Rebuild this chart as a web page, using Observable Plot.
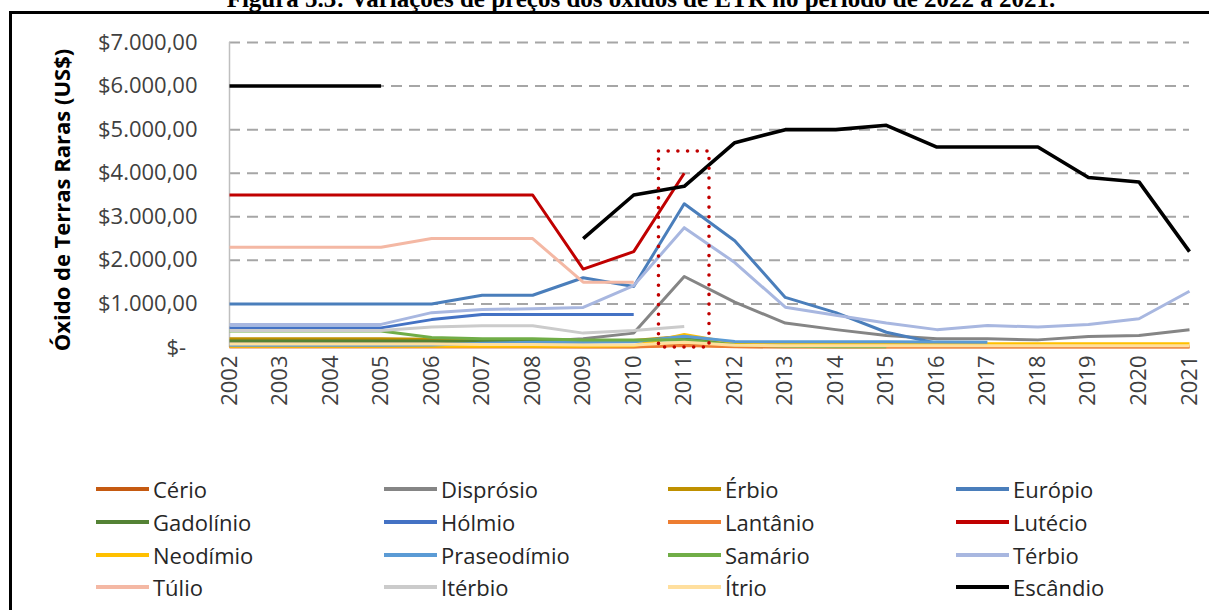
<!DOCTYPE html>
<html>
<head>
<meta charset="utf-8">
<script src="https://cdn.jsdelivr.net/npm/d3@7"></script>
<script src="https://cdn.jsdelivr.net/npm/@observablehq/plot@0.6"></script>
<style>
  html, body { margin: 0; padding: 0; background: #fff; overflow: hidden; width: 1209px; height: 610px; }
  #frame { position: absolute; left: 9px; top: 11px; width: 1220px; height: 640px; border: 3px solid #000; box-sizing: border-box; }
  #title { position: absolute; left: 0; width: 1282px; top: -14px; line-height: 25px; text-align: center;
           font-family: "Liberation Serif", "Times New Roman", serif; font-weight: bold; font-size: 25px; color: #000; white-space: nowrap; }
  #chart { position: absolute; left: 0; top: 0; }
  #ylabel { position: absolute; left: -139px; top: 186px; width: 400px; line-height: 28px; text-align: center;
            transform: rotate(-90deg); transform-origin: 50% 50%;
            font-family: "Open Sans", sans-serif; font-weight: bold; font-size: 22px; color: #000; white-space: nowrap; }
  #legend { position: absolute; left: 96px; top: 473px; display: grid; grid-template-columns: 288px 284px 288px 288px;
            grid-auto-rows: 32.7px; font-family: "Open Sans", sans-serif; font-size: 22px; color: #262626; }
  .item { display: flex; align-items: center; white-space: nowrap; }
  .sw { display: inline-block; width: 53px; height: 4px; margin-right: 4px; }
</style>
</head>
<body>
<div id="frame"></div>
<div id="title">Figura 5.3: Variações de preços dos óxidos de ETR no período de 2022 a 2021.</div>
<div id="chart"></div>
<div id="ylabel">Óxido de Terras Raras (US$)</div>
<div id="legend"></div>
<script>
// ---- Data ----
const years = [2002,2003,2004,2005,2006,2007,2008,2009,2010,2011,2012,2013,2014,2015,2016,2017,2018,2019,2020,2021];
const yTicks = [0,1000,2000,3000,4000,5000,6000,7000];

const names = ["Cério","Disprósio","Érbio","Európio","Gadolínio","Hólmio","Lantânio","Lutécio",
               "Neodímio","Praseodímio","Samário","Térbio","Túlio","Itérbio","Ítrio","Escândio"];
const colors = ["#C55A11","#858585","#BF9000","#4A7EBB","#548235","#4472C4","#ED7D31","#C00000",
                "#FFC000","#5B9BD5","#70AD47","#A8B7E0","#F4B8A4","#CBCBCB","#FFDF9E","#000000"];

const cerio       = [20,20,20,20,20,20,20,15,15,60,25,15,15,15,15,15,15,15,15,15];
const disprosio   = [100,100,100,100,100,100,130,200,330,1630,1040,560,410,275,200,200,175,250,275,410];
const erbio       = [200,200,200,200,190,180,170,160,160,260,80,50,40,40,40,null,null,null,null,null];
const europio     = [1000,1000,1000,1000,1000,1200,1200,1600,1400,3300,2450,1150,800,350,100,null,null,null,null,null];
const gadolinio   = [150,150,150,150,150,140,140,130,150,200,60,40,30,30,null,null,null,null,null,null];
const holmio      = [450,450,450,450,640,760,760,760,760,null,null,null,null,null,null,null,null,null,null,null];
const lantanio    = [15,15,15,15,15,15,15,10,10,45,20,10,10,10,10,10,10,10,10,10];
const lutecio     = [3500,3500,3500,3500,3500,3500,3500,1800,2200,4000,null,null,null,null,null,null,null,null,null,null];
const neodimio    = [30,30,30,30,30,30,30,30,40,300,100,90,90,90,90,85,85,85,85,85];
const praseodimio = [50,50,50,50,60,100,120,120,130,260,140,130,130,130,125,120,null,null,null,null];
const samario     = [380,380,380,380,230,200,200,170,170,180,60,30,20,20,null,null,null,null,null,null];
const terbio      = [530,530,530,530,800,870,890,920,1420,2750,1950,925,740,560,410,505,470,530,660,1290];
const tulio       = [2300,2300,2300,2300,2500,2500,2500,1500,1500,null,null,null,null,null,null,null,null,null,null,null];
const iterbio     = [390,390,390,390,470,500,500,330,390,480,null,null,null,null,null,null,null,null,null,null];
const itrio       = [80,80,80,80,80,70,70,60,60,120,50,40,40,40,40,40,40,40,40,40];
const escandio    = [6000,6000,6000,6000,null,null,null,2500,3500,3700,4700,5000,5000,5100,4600,4600,4600,3900,3800,2200];

const highlightYears = [2010.5, 2011.5];
const highlightMax = 4500;

const seriesValues = [cerio,disprosio,erbio,europio,gadolinio,holmio,lantanio,lutecio,
                      neodimio,praseodimio,samario,terbio,tulio,iterbio,itrio,escandio];

// ---- Build ----
const locale = d3.formatLocale({decimal: ",", thousands: ".", grouping: [3], currency: ["$", ""]});
const money = locale.format("$,.2f");

const lineMarks = seriesValues.map((vals, i) =>
  Plot.line(years.map((yr, j) => ({year: yr, value: vals[j]})), {
    x: "year", y: "value", stroke: colors[i],
    strokeWidth: names[i] === "Escândio" ? 3.6 : 3,
    strokeLinejoin: "round", strokeLinecap: "butt"
  })
);

const chart = Plot.plot({
  width: 1209,
  height: 430,
  marginLeft: 229,
  marginRight: 20,
  marginTop: 42,
  marginBottom: 83,
  style: {fontFamily: "Open Sans, sans-serif", fontSize: "22px", color: "#404040", background: "transparent", overflow: "visible"},
  x: {type: "linear", domain: [years[0], years[years.length - 1]]},
  y: {domain: [0, 7000]},
  marks: [
    Plot.ruleY(yTicks.filter(d => d > 0), {stroke: "#A6A6A6", strokeWidth: 2, strokeDasharray: "11,7"}),
    Plot.ruleX([years[0]], {y1: 0, y2: 7000, stroke: "#BFBFBF", strokeWidth: 1.5}),
    Plot.axisY({ticks: yTicks, tickSize: 0, tickPadding: 32, label: null,
                tickFormat: d => d === 0 ? "$-\u00a0\u00a0" : money(d)}),
    Plot.axisX({ticks: years, tickSize: 0, tickPadding: 8, tickRotate: -90, label: null,
                tickFormat: d => String(d)}),
    ...lineMarks,
    Plot.rect([{x1: highlightYears[0], x2: highlightYears[1], y1: 0, y2: highlightMax}], {
      x1: "x1", x2: "x2", y1: "y1", y2: "y2", fill: "none", stroke: "#C00000",
      strokeWidth: 3.6, strokeDasharray: "0,9.7", strokeLinecap: "round"
    })
  ]
});
document.getElementById("chart").appendChild(chart);

// ---- Legend ----
const legend = document.getElementById("legend");
names.forEach((n, i) => {
  const item = document.createElement("div");
  item.className = "item";
  const sw = document.createElement("span");
  sw.className = "sw";
  sw.style.background = colors[i];
  item.appendChild(sw);
  item.appendChild(document.createTextNode(n));
  legend.appendChild(item);
});
</script>
</body>
</html>
